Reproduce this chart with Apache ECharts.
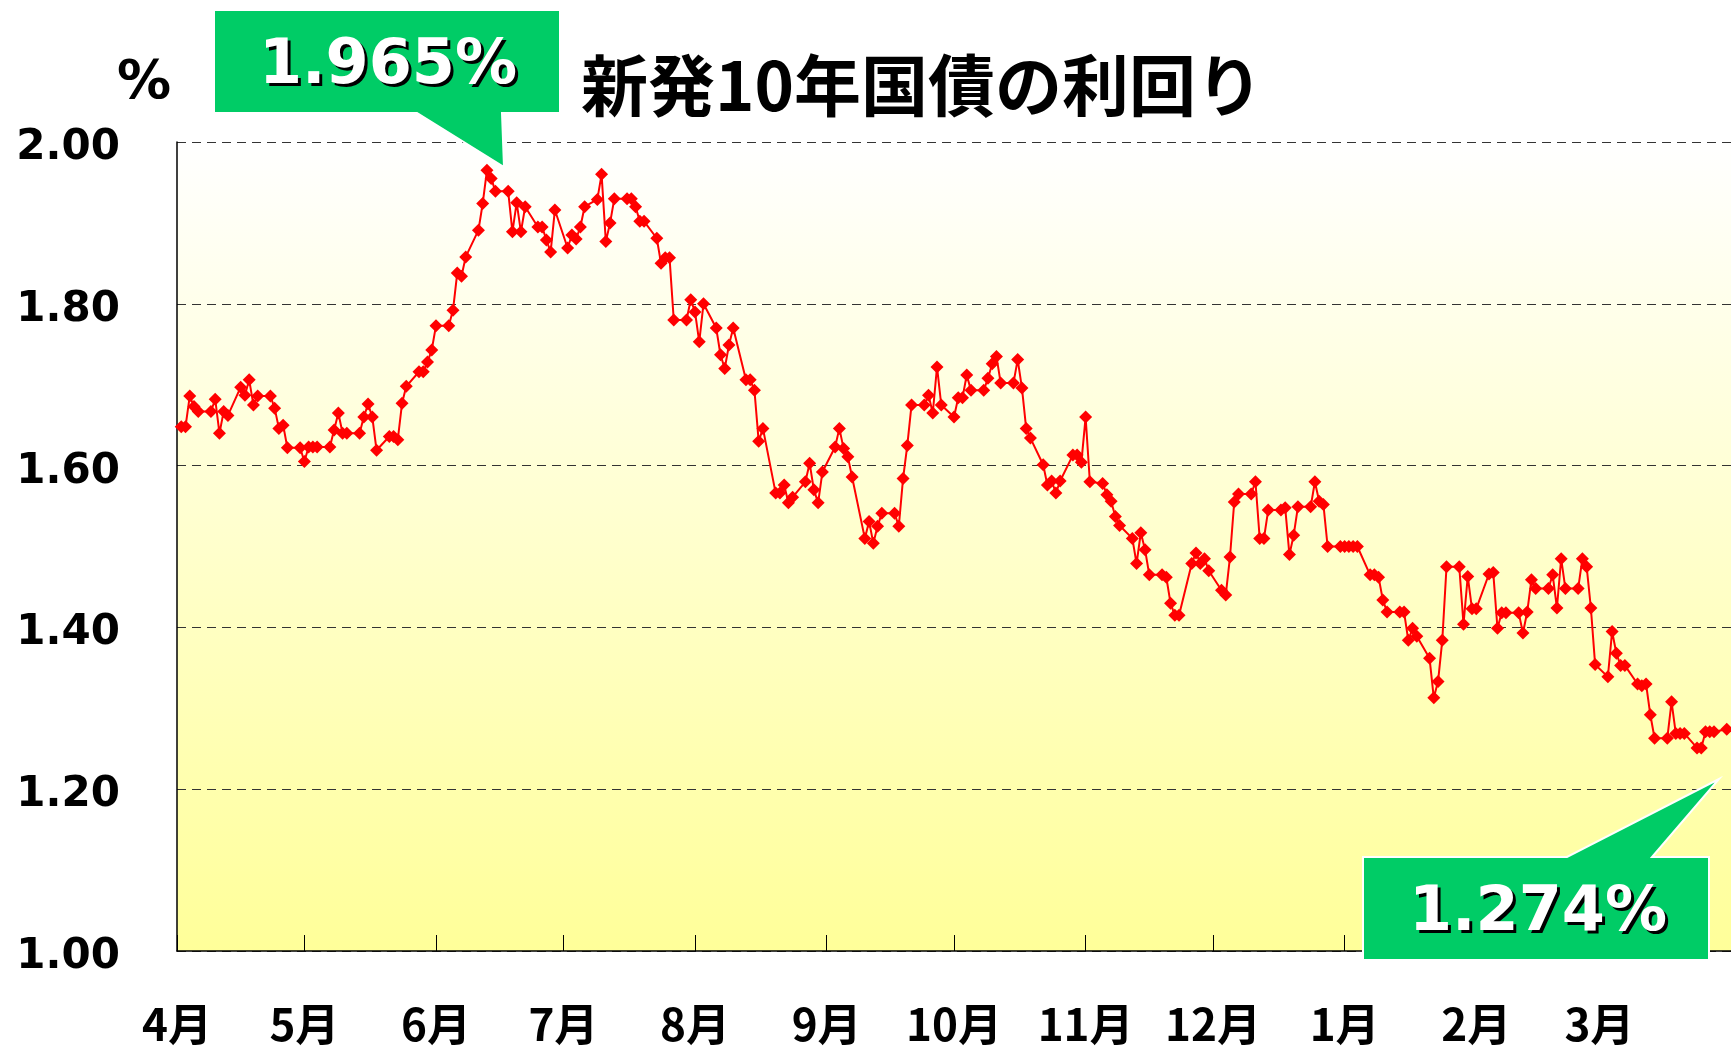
<!DOCTYPE html>
<html>
<head>
<meta charset="utf-8">
<script src="https://cdn.jsdelivr.net/npm/echarts@6/dist/echarts.min.js"></script>
<style>
  html, body { margin: 0; padding: 0; background: #fff; }
  #main { width: 1731px; height: 1049px; }
</style>
</head>
<body>
<div id="main"></div>
<script>
// month axis
const monthStarts = ["2007-04-01", "2007-05-01", "2007-06-01", "2007-07-01", "2007-08-01", "2007-09-01",
  "2007-10-01", "2007-11-01", "2007-12-01", "2008-01-01", "2008-02-01", "2008-03-01"];
const monthLabels = ["1月", "2月", "3月", "4月", "5月", "6月", "7月", "8月", "9月", "10月", "11月", "12月"];
const yTicks = [1.0, 1.2, 1.4, 1.6, 1.8, 2.0];

// daily yields (%), one per weekday (holidays carry the previous value)
const yieldApr = [1.648, 1.648, 1.686, 1.673, 1.667, 1.667, 1.682, 1.640, 1.667, 1.662,
  1.697, 1.687, 1.706, 1.675, 1.686, 1.686, 1.671, 1.646, 1.650, 1.622, 1.622];
const yieldMay = [1.605, 1.623, 1.623, 1.623, 1.623, 1.644, 1.665, 1.640, 1.640, 1.640,
  1.660, 1.676, 1.660, 1.619, 1.636, 1.636, 1.632, 1.677, 1.698, 1.716, 1.716, 1.728, 1.743];
const yieldJun = [1.773, 1.773, 1.792, 1.838, 1.834, 1.858, 1.891, 1.924, 1.965, 1.955,
  1.939, 1.939, 1.889, 1.925, 1.889, 1.920, 1.895, 1.895, 1.879, 1.864, 1.916];
const yieldJul = [1.869, 1.885, 1.880, 1.895, 1.920, 1.929, 1.960, 1.877, 1.900, 1.930,
  1.930, 1.930, 1.920, 1.902, 1.902, 1.881, 1.850, 1.857, 1.857, 1.780, 1.780, 1.805];
const yieldAug = [1.790, 1.753, 1.800, 1.770, 1.737, 1.720, 1.749, 1.770, 1.706, 1.706,
  1.693, 1.630, 1.646, 1.566, 1.566, 1.576, 1.554, 1.561, 1.580, 1.603, 1.570, 1.554, 1.592];
const yieldSep = [1.623, 1.646, 1.621, 1.611, 1.586, 1.510, 1.531, 1.504, 1.525, 1.541,
  1.541, 1.525, 1.584, 1.625, 1.675, 1.675, 1.687, 1.665, 1.722, 1.675];
const yieldOct = [1.660, 1.684, 1.684, 1.712, 1.693, 1.693, 1.708, 1.726, 1.735, 1.702,
  1.702, 1.731, 1.696, 1.646, 1.634, 1.601, 1.576, 1.581, 1.566, 1.581, 1.613, 1.613, 1.604];
const yieldNov = [1.660, 1.580, 1.578, 1.564, 1.556, 1.537, 1.526, 1.510, 1.479, 1.517,
  1.496, 1.465, 1.465, 1.462, 1.430, 1.415, 1.415, 1.479, 1.492, 1.479, 1.485, 1.470];
const yieldDec = [1.446, 1.440, 1.487, 1.555, 1.565, 1.565, 1.580, 1.510, 1.510, 1.545,
  1.545, 1.548, 1.490, 1.514, 1.549, 1.549, 1.580, 1.556, 1.552, 1.500, 1.500];
const yieldJan = [1.500, 1.500, 1.500, 1.500, 1.465, 1.465, 1.462, 1.434, 1.419, 1.419,
  1.419, 1.384, 1.399, 1.389, 1.362, 1.313, 1.333, 1.384, 1.475, 1.475, 1.404, 1.463, 1.423];
const yieldFeb = [1.423, 1.466, 1.468, 1.399, 1.418, 1.418, 1.418, 1.393, 1.419, 1.459,
  1.448, 1.448, 1.465, 1.424, 1.485, 1.448, 1.448, 1.485, 1.475, 1.424, 1.354];
const yieldMar = [1.339, 1.395, 1.368, 1.353, 1.353, 1.330, 1.328, 1.330, 1.292, 1.263,
  1.263, 1.308, 1.269, 1.269, 1.269, 1.251, 1.251, 1.271, 1.271, 1.271, 1.274];

function parseDay(s) {
  const p = s.split("-").map(Number);
  return new Date(p[0], p[1] - 1, p[2]);
}

// one point per weekday, 2007-04-02 .. 2008-03-31
const weekdays = [];
for (let d = parseDay("2007-04-02"); d <= parseDay("2008-03-31"); d.setDate(d.getDate() + 1)) {
  const wd = d.getDay();
  if (wd === 0 || wd === 6) continue;
  weekdays.push(d.getTime());
}

const yields = [].concat(yieldApr, yieldMay, yieldJun, yieldJul, yieldAug, yieldSep,
  yieldOct, yieldNov, yieldDec, yieldJan, yieldFeb, yieldMar);
if (yields.length !== weekdays.length) console.warn("count mismatch", yields.length, weekdays.length);
const seriesData = yields.map((v, i) => [weekdays[i], v]);

const peak = Math.max(...yields);
const last = yields[yields.length - 1];
const monthTicks = monthStarts.map(s => parseDay(s).getTime());

const chart = echarts.init(document.getElementById("main"));

function callout(points, cx, cy, text) {
  const font = 'bold 62px "DejaVu Sans"';
  return [
    {
      type: "polygon",
      shape: { points: points },
      style: { fill: "#00cc66", stroke: "#ffffff", lineWidth: 2 },
      z: 100
    },
    {
      type: "text",
      x: cx + 3, y: cy + 3,
      style: { text: text, fill: "#000", font: font, align: "center", verticalAlign: "middle" },
      z: 101
    },
    {
      type: "text",
      x: cx, y: cy,
      style: { text: text, fill: "#fff", font: font, align: "center", verticalAlign: "middle" },
      z: 102
    }
  ];
}

const option = {
  animation: false,
  backgroundColor: "#ffffff",
  title: [
    {
      text: "新発10年国債の利回り",
      left: 576,
      top: 47,
      textStyle: { fontFamily: "Noto Sans CJK JP", fontSize: 67, fontWeight: "bold", color: "#000" }
    },
    {
      text: "%",
      left: 112,
      top: 52,
      textStyle: { fontFamily: "DejaVu Sans", fontSize: 54, fontWeight: "bold", color: "#000" }
    }
  ],
  grid: {
    left: 177,
    right: -11,
    top: 142,
    bottom: 98,
    show: true,
    borderWidth: 0,
    backgroundColor: new echarts.graphic.LinearGradient(0, 0, 0, 1, [
      { offset: 0, color: "#ffffff" },
      { offset: 1, color: "#ffff99" }
    ])
  },
  xAxis: {
    type: "value",
    min: parseDay("2007-04-01").getTime(),
    max: parseDay("2008-04-01").getTime(),
    axisLine: { lineStyle: { color: "#000", width: 1.5 } },
    axisTick: { inside: true, length: 16, customValues: monthTicks, lineStyle: { color: "#000", width: 1 } },
    axisLabel: {
      customValues: monthTicks,
      formatter: v => monthLabels[new Date(v).getMonth()],
      margin: 51,
      fontFamily: "Noto Sans CJK JP",
      fontSize: 44,
      fontWeight: "bold",
      color: "#000"
    },
    splitLine: { show: false }
  },
  yAxis: {
    type: "value",
    min: yTicks[0],
    max: yTicks[yTicks.length - 1],
    interval: 0.2,
    axisLine: { show: true, lineStyle: { color: "#000", width: 1.5 } },
    axisTick: { show: false },
    axisLabel: {
      formatter: v => v.toFixed(2),
      margin: 57,
      verticalAlign: "top",
      lineHeight: 12,
      fontFamily: "DejaVu Sans",
      fontSize: 42,
      fontWeight: "bold",
      color: "#000"
    },
    splitLine: { lineStyle: { type: [9, 6], color: "#333", width: 1 } }
  },
  series: [
    {
      type: "line",
      data: seriesData,
      symbol: "diamond",
      symbolSize: 13,
      itemStyle: { color: "#ff0000" },
      lineStyle: { color: "#ff0000", width: 2 }
    }
  ],
  graphic: [].concat(
    callout([[214, 10], [560, 10], [560, 113], [502, 113], [504, 167], [417, 113], [214, 113]],
      388, 67, peak.toFixed(3) + "%"),
    callout([[1363, 857], [1567, 857], [1719, 779], [1652, 857], [1709, 857], [1709, 960], [1363, 960]],
      1538, 914, last.toFixed(3) + "%")
  )
};

chart.setOption(option);
</script>
</body>
</html>
